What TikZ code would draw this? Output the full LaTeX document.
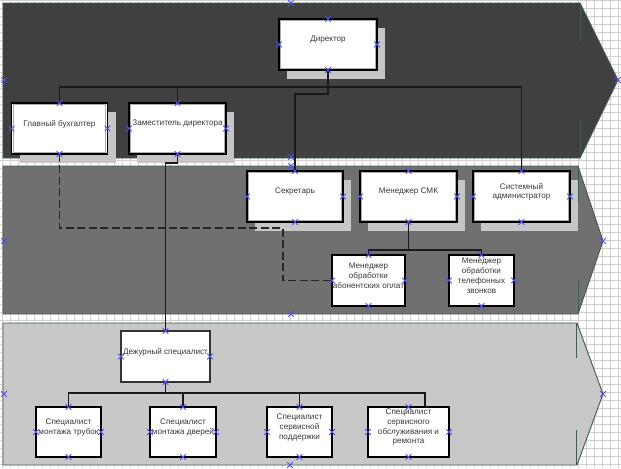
\documentclass[tikz,border=0pt]{standalone}
\usepackage{fontspec}
\setmainfont{Liberation Sans}
\usetikzlibrary{shadows,calc}
\definecolor{bandA}{HTML}{404040}
\definecolor{bandB}{HTML}{707070}
\definecolor{bandC}{HTML}{C8C8C8}
\definecolor{bandedge}{HTML}{3E5E48}
\definecolor{gridc}{HTML}{D0D0D0}
\definecolor{shadowc}{HTML}{C6C6C6}
\definecolor{txt}{HTML}{383838}
\definecolor{xblue}{HTML}{5050F0}
\begin{document}
\begin{tikzpicture}[x=0.75pt,y=-0.75pt,
  box/.style={draw=black, line width=0.8pt, fill=white, inner sep=0pt, outer sep=0pt},
  dbox/.style={box, general shadow={fill=shadowc, shadow xshift=6pt, shadow yshift=-6.75pt},
    path picture={\draw[gray!65, line width=0.7pt]
      ([shift={(1.2pt,-1.2pt)}]path picture bounding box.north west) rectangle
      ([shift={(-1.2pt,1.2pt)}]path picture bounding box.south east);}},
  tbox/.style={box, draw=black!80, line width=1.2pt},
  tl/.style={font=\fontsize{6.1}{7.3}\selectfont, text=txt, align=center, yshift=3.5pt, inner sep=0pt},
  band/.style={draw=bandedge, line width=0.7pt},
  tick/.style={draw=bandedge, line width=0.7pt},
  conn/.style={draw=black!90, line width=1.2pt},
  dconn/.style={draw=black!85, line width=1.3pt, dash pattern=on 6pt off 2.6pt},
  xm/.style={draw=xblue, line width=0.7pt},
  gridline/.style={draw=gridc, line width=0.5pt}]
\useasboundingbox (0,0) rectangle (621,468);
\fill[white] (0,0) rectangle (621,468);
\foreach \i in {2,10,...,626} \draw[gridline] (\i,0) -- (\i,468);
\foreach \j in {0,8,...,470} \draw[gridline] (0,\j) -- (621,\j);

% bands
\path[band, fill=bandA] (3,3) -- (580,3) -- (618,80) -- (580,158) -- (3,158) -- cycle;
\path[band, fill=bandB] (3,166) -- (578,166) -- (603,241) -- (578,314) -- (3,314) -- cycle;
\path[band, fill=bandC] (3,323) -- (577,323) -- (603,394) -- (577,465) -- (3,465) -- cycle;
\draw[tick] (580,3) -- (580,42) (580,120) -- (580,158);
\draw[tick] (578,166) -- (578,202) (578,280) -- (578,314);
\draw[tick] (576,323) -- (576,358) (576,430) -- (576,465);

% boxes
\node[dbox, minimum width=73.5pt, minimum height=38.25pt, label={[tl]center:Директор}] (dir) at (328,44.5) {};
\node[dbox, minimum width=72pt, minimum height=38.25pt, label={[tl]center:Главный бухгалтер}] (buh) at (59.5,128.5) {};
\node[dbox, minimum width=72.75pt, minimum height=38.25pt, label={[tl]center:Заместитель директора}] (zam) at (177.5,128.5) {};
\node[dbox, minimum width=72pt, minimum height=38.25pt, label={[tl]center:Секретарь}] (sec) at (295,196.5) {};
\node[dbox, minimum width=72.75pt, minimum height=38.25pt, label={[tl]center:Менеджер СМК}] (smk) at (408.5,196.5) {};
\node[dbox, minimum width=72.75pt, minimum height=38.25pt, label={[tl]center:Системный\\администратор}] (sys) at (521.5,196.5) {};
\node[box, minimum width=54.75pt, minimum height=38.25pt, label={[tl]center:Менеджер\\обработки\\абонентских оплат}] (abo) at (368.5,280.5) {};
\node[box, minimum width=48.75pt, minimum height=38.25pt, label={[tl]center:Менеджер\\обработки\\телефонных\\звонков}] (tel) at (481.5,280.5) {};
\node[tbox, minimum width=66.75pt, minimum height=38.25pt, label={[tl]center:Дежурный специалист}] (dej) at (165.5,356.5) {};
\node[box, minimum width=48.75pt, minimum height=37.5pt, label={[tl]center:Специалист\\монтажа трубок}] (tr) at (68.5,432) {};
\node[box, minimum width=49.5pt, minimum height=37.5pt, label={[tl]center:Специалист\\монтажа дверей}] (dv) at (183,432) {};
\node[box, minimum width=48.75pt, minimum height=37.5pt, label={[tl]center:Специалист\\сервисной\\поддержки}] (pod) at (299.5,432) {};
\node[box, minimum width=60.75pt, minimum height=37.5pt, label={[tl]center:Специалист\\сервисного\\обслуживания и\\ремонта}] (rem) at (408.5,432) {};

% connectors
\draw[conn] (dir.south) -- ++(0,24) -| (sec.north);
\draw[conn] (buh.north) -- ++(0,-16) -| (sys.north);
\draw[conn] (zam.north) -- ++(0,-16);
\draw[conn] (zam.south) -- ++(0,9) -| (dej.north);
\coordinate (dk) at (283,228);
\draw[dconn] (buh.south) |- (dk) |- (abo.west);
\draw[conn] (smk.south) -- ++(0,28) coordinate (sb) -| (abo.north);
\draw[conn] (sb) -| (tel.north);
\draw[conn] (dej.south) -- ++(0,11) coordinate (db) -| (tr.north);
\draw[conn] (db) -| (dv.north);
\draw[conn] (db) -| (pod.north);
\draw[conn] (db) -| ([xshift=12.4pt]rem.north);

% connection markers
\foreach \n in {dir,buh,zam,sec,smk,sys,abo,tel,dej,tr,dv,pod,rem}
  \foreach \a in {north,south,east,west}
    \draw[xm] (\n.\a) ++(-2.8,-2.8) -- ++(5.6,5.6) ++(0,-5.6) -- ++(-5.6,5.6);
\foreach \p in {(291,3),(4,80),(618,80),(291,157),(291,166),(4,241),(603,241),(291,314),(4,394),(603,394),(290,465)}
  \draw[xm] \p ++(-2.8,-2.8) -- ++(5.6,5.6) ++(0,-5.6) -- ++(-5.6,5.6);
\end{tikzpicture}
\end{document}
